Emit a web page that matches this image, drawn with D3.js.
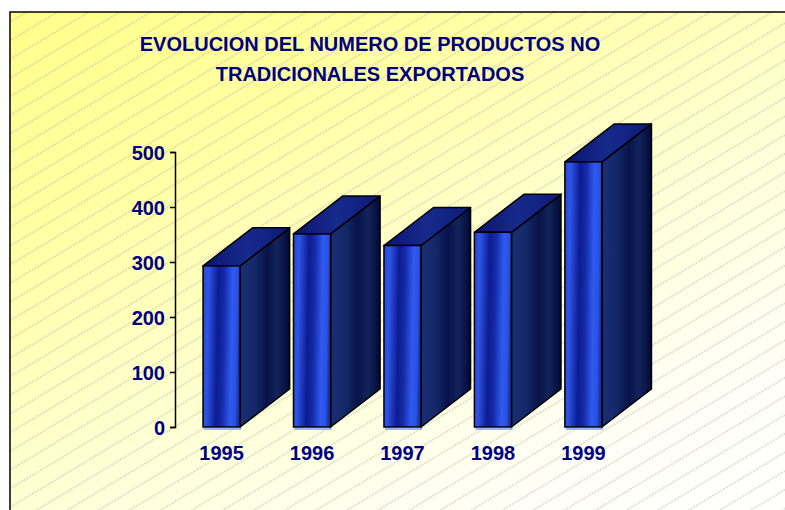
<!DOCTYPE html>
<html>
<head>
<meta charset="utf-8">
<script src="https://cdn.jsdelivr.net/npm/d3@7"></script>
<style>
  body { margin: 0; background: #fff; }
  svg text { font-family: Arial, "Liberation Sans", sans-serif; font-weight: bold; fill: #000080; }
</style>
</head>
<body>
<div id="chart"></div>
<script>
/* DATA */
const years = ["1995", "1996", "1997", "1998", "1999"];
const products = [293, 351, 330, 354, 482];
const yTicks = [0, 100, 200, 300, 400, 500];
const titleLines = ["EVOLUCION DEL NUMERO DE PRODUCTOS NO", "TRADICIONALES EXPORTADOS"];

/* CONSTANTS */
const width = 785,
  height = 510,
  depth = { dx: 49.5, dy: -38 };

const svg = d3.select("#chart")
  .append("svg")
  .attr("width", width)
  .attr("height", height);

const defs = svg.append("defs");

// background gradient, yellow in the top-left fading to white
const bg = defs.append("linearGradient")
  .attr("id", "bg")
  .attr("gradientUnits", "userSpaceOnUse")
  .attr("x1", 10).attr("y1", 12)
  .attr("x2", 364).attr("y2", 720);
[[0, "#ffff8a"], [0.25, "#ffffa2"], [0.45, "#ffffc2"], [0.6, "#ffffda"], [0.8, "#fffff4"], [1, "#ffffff"]]
  .forEach(s => bg.append("stop").attr("offset", s[0]).attr("stop-color", s[1]));

// diagonal dashed hatching
const hatch = defs.append("pattern")
  .attr("id", "hatch")
  .attr("patternUnits", "userSpaceOnUse")
  .attr("width", 16).attr("height", 16)
  .attr("patternTransform", "rotate(-31)");
hatch.append("line")
  .attr("x1", 0).attr("x2", 16)
  .attr("y1", 8).attr("y2", 8)
  .attr("stroke", "#b0b0a4")
  .attr("stroke-width", 0.8)
  .attr("stroke-dasharray", "2,1.2");

// bar face gradients
function grad(id, stops, x2, y2) {
  const g = defs.append("linearGradient").attr("id", id)
    .attr("x1", 0).attr("y1", 0).attr("x2", x2).attr("y2", y2);
  stops.forEach(s => g.append("stop").attr("offset", s[0]).attr("stop-color", s[1]));
}
grad("front", [[0, "#2646d6"], [0.15, "#2f55e8"], [0.42, "#0c1c90"], [0.58, "#142aa8"], [0.8, "#2f5af0"], [0.94, "#2a50e0"], [1, "#1a34a8"]], 1, 0.08);
grad("side", [[0, "#1a2f74"], [0.3, "#142868"], [0.55, "#08124a"], [0.75, "#12245c"], [1, "#030836"]], 1, 0);
grad("top", [[0, "#0a1470"], [0.5, "#162a8c"], [1, "#0c1a78"]], 1, 0);

// panel
svg.append("rect")
  .attr("x", 10).attr("y", 12)
  .attr("width", 800).attr("height", 520)
  .attr("fill", "url(#bg)");
svg.append("rect")
  .attr("x", 10).attr("y", 12)
  .attr("width", 800).attr("height", 520)
  .attr("fill", "url(#hatch)")
  .attr("stroke", "#000")
  .attr("stroke-width", 1.5);

// title
svg.selectAll("text.title")
  .data(titleLines)
  .join("text")
  .attr("class", "title")
  .attr("x", 370)
  .attr("y", (d, i) => 51 + i * 30)
  .attr("text-anchor", "middle")
  .attr("font-size", 20)
  .text(d => d);

/* SCALES */
const yScale = d3.scaleLinear()
  .domain([0, 500])
  .range([427, 152]);

const xScale = d3.scaleBand()
  .domain(years)
  .range([175, 630])
  .paddingInner(0.59)
  .paddingOuter(0.31);

/* Y AXIS */
const yAxis = d3.axisLeft(yScale)
  .tickValues(yTicks)
  .tickSize(5)
  .tickPadding(5)
  .tickFormat(d3.format("d"));

const gy = svg.append("g")
  .attr("transform", "translate(175,0)")
  .call(yAxis);
gy.select(".domain").attr("stroke", "#000").attr("stroke-width", 1.5);
gy.selectAll(".tick line").attr("stroke", "#000").attr("stroke-width", 1.5);
gy.selectAll(".tick text")
  .attr("font-size", 20)
  .attr("font-family", "Arial, 'Liberation Sans', sans-serif")
  .attr("font-weight", "bold")
  .attr("fill", "#000080")
  .attr("dy", "0.36em");

/* BARS */
const bars = svg.selectAll("g.bar")
  .data(years.map((y, i) => ({ year: y, value: products[i] })))
  .join("g")
  .attr("class", "bar");

const x0 = d => xScale(d.year),
  x1 = d => xScale(d.year) + xScale.bandwidth(),
  yT = d => yScale(d.value),
  yB = yScale(0);

// light reflection under the front face
bars.append("line")
  .attr("x1", d => x0(d) + 1).attr("x2", d => x1(d) + 1)
  .attr("y1", yB + 2).attr("y2", yB + 2)
  .attr("stroke", "#7a9cff")
  .attr("stroke-width", 1.5);

bars.append("path")
  .attr("d", d => `M${x1(d)},${yB} L${x1(d) + depth.dx},${yB + depth.dy} L${x1(d) + depth.dx},${yT(d) + depth.dy} L${x1(d)},${yT(d)} Z`)
  .attr("fill", "url(#side)")
  .attr("stroke", "#000")
  .attr("stroke-width", 1.5)
  .attr("stroke-linejoin", "round");

bars.append("path")
  .attr("d", d => `M${x0(d)},${yT(d)} L${x1(d)},${yT(d)} L${x1(d) + depth.dx},${yT(d) + depth.dy} L${x0(d) + depth.dx},${yT(d) + depth.dy} Z`)
  .attr("fill", "url(#top)")
  .attr("stroke", "#000")
  .attr("stroke-width", 1.5)
  .attr("stroke-linejoin", "round");

bars.append("rect")
  .attr("x", x0)
  .attr("y", yT)
  .attr("width", xScale.bandwidth())
  .attr("height", d => yB - yT(d))
  .attr("fill", "url(#front)")
  .attr("stroke", "#000")
  .attr("stroke-width", 1.5);

/* YEAR LABELS */
svg.selectAll("text.year")
  .data(years)
  .join("text")
  .attr("class", "year")
  .attr("x", d => xScale(d) + xScale.bandwidth() / 2)
  .attr("y", 460)
  .attr("text-anchor", "middle")
  .attr("font-size", 20)
  .text(d => d);
</script>
</body>
</html>
